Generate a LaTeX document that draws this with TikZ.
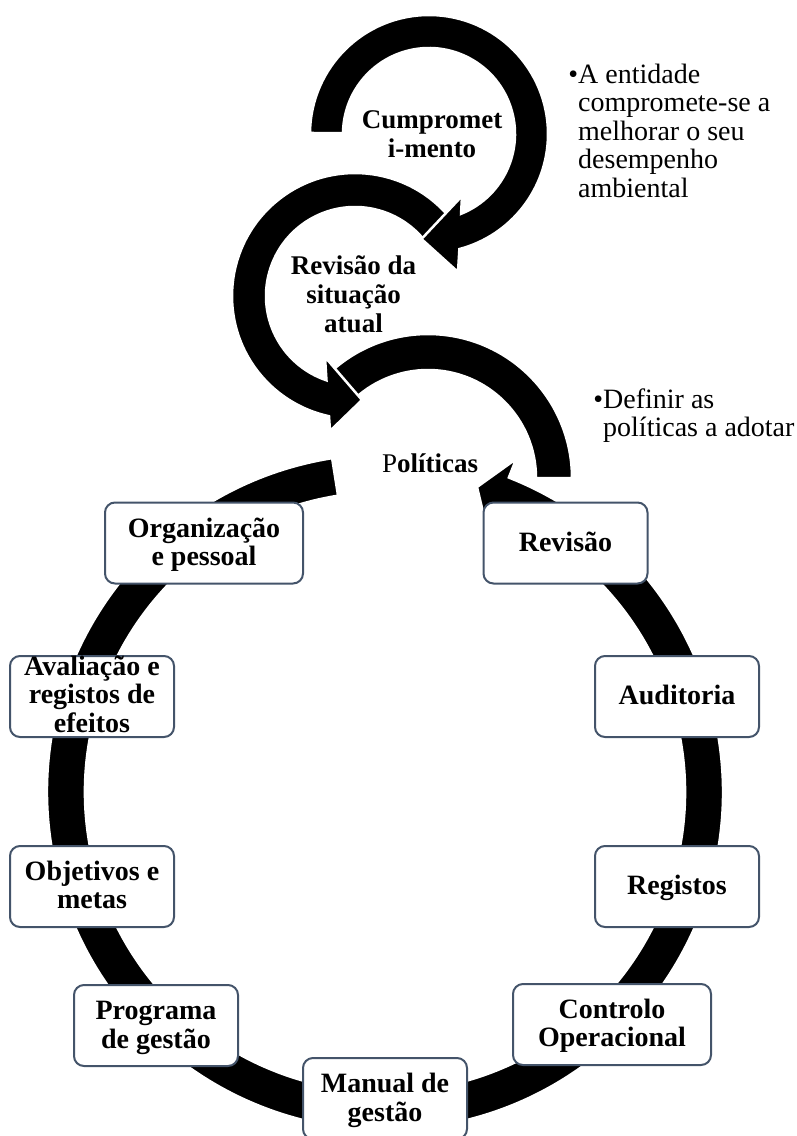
\documentclass[tikz,border=0pt]{standalone}
\usepackage{fontspec}
\setmainfont{Liberation Serif}
\usetikzlibrary{calc}
\definecolor{boxline}{HTML}{44546A}
\tikzset{
  loop/.style={fill=black, draw=white, line width=2.5pt, line join=miter},
  stage/.style={draw=boxline, line width=2pt, fill=white, rounded corners=10pt,
    inner sep=0pt, minimum width=164pt, minimum height=81pt},
  widestage/.style={stage, minimum width=198pt},
  stagetext/.style={inner sep=0pt, align=center,
    font=\fontsize{28}{28.5}\selectfont\bfseries},
  looptext/.style={inner sep=0pt, align=center,
    font=\fontsize{27}{29}\selectfont\bfseries},
  note/.style={inner sep=0pt, align=left, anchor=west,
    font=\fontsize{28}{28.5}\selectfont},
}
\begin{document}
\begin{tikzpicture}[x=1pt,y=1pt]
\useasboundingbox (0,0) rectangle (797,-1136);

% centres of the circular arrows
\coordinate (c0) at (385,-792);
\coordinate (c1) at (429,-134);
\coordinate (c2) at (355,-296);
\coordinate (c3) at (428,-478);

% large cycle arrow around the stages
\path[loop] ($(c0)+(99:338)$) arc[start angle=99, end angle=428.5, radius=338]
  -- ($(c0)+(68.5:358)$) -- (477,-487) -- ($(c0)+(68.5:280)$) -- ($(c0)+(68.5:300)$)
  arc[start angle=428.5, end angle=99, radius=300] -- cycle;

% stage boxes
\node[widestage] (org) at (204,-543) {};
\node[stage] (aval) at (92,-696.5) {};
\node[stage] (obj) at (92,-886.5) {};
\node[stage] (prog) at (156,-1025.5) {};
\node[stage] (man) at (385,-1098.5) {};
\node[widestage] (ctrl) at (612,-1024.5) {};
\node[stage] (reg) at (677,-886.5) {};
\node[stage] (aud) at (677,-696.5) {};
\node[stage] (rev) at (565.5,-543) {};

\node[stagetext] (orgT) at ([yshift=-2.7pt]org.center) {\strut Organização\\\strut e pessoal};
\node[stagetext] (avalT) at ([yshift=-1.5pt]aval.center) {\strut Avaliação e\\\strut registos de\\\strut efeitos};
\node[stagetext] (objT) at ([yshift=-2.4pt]obj.center) {\strut Objetivos e\\\strut metas};
\node[stagetext] (progT) at ([yshift=-2.7pt]prog.center) {\strut Programa\\\strut de gestão};
\node[stagetext] (manT) at ([yshift=-2.7pt]man.center) {\strut Manual de\\\strut gestão};
\node[stagetext] (ctrlT) at ([yshift=-2.4pt]ctrl.center) {\strut Controlo\\\strut Operacional};
\node[stagetext] (regT) at ([yshift=-2.7pt]reg.center) {\strut Registos};
\node[stagetext] (audT) at ([yshift=-2.7pt]aud.center) {\strut Auditoria};
\node[stagetext] (revT) at ([yshift=-2.4pt]rev.center) {\strut Revisão};

% Políticas arc (no head)
\path[loop] ($(c3)+(132:144)$) arc[start angle=132, end angle=0, radius=144]
  -- ++(-36,0) arc[start angle=0, end angle=132, radius=108] -- cycle;

% Revisão da situação atual arrow
\path[loop] ($(c2)+(39.5:123)$) arc[start angle=39.5, end angle=257.8, radius=123]
  -- (330,-431) -- (362,-400) -- (325,-357) -- ($(c2)+(251.3:89)$)
  arc[start angle=251.3, end angle=39.5, radius=89] -- cycle;

% Cumprometimento arrow
\path[loop] ($(c1)+(179.5:119)$) arc[start angle=179.5, end angle=-75.2, radius=119]
  -- (458,-272) -- (421.5,-239) -- (462,-196) -- ($(c1)+(-68.1:86)$)
  arc[start angle=-68.1, end angle=179.5, radius=86] -- cycle;

% texts inside the circular arrows
\node[looptext] (t1) at (432,-136.7) {\strut Cumpromet\\\strut i-mento};
\node[looptext] (t2) at (353.5,-297.2) {\strut Revisão da\\\strut situação\\\strut atual};
\node[looptext] (t3) at (430,-466.9) {\strut{\mdseries P}olíticas};

% side notes
\node[note] (n1) at (578,-134.3) {\strut\llap{\textbullet}A entidade\\\strut compromete-se a\\\strut melhorar o seu\\\strut desempenho\\\strut ambiental};
\node[note] (n2) at (603,-416.6) {\strut\llap{\textbullet}Definir as\\\strut políticas a adotar};
\end{tikzpicture}
\end{document}
